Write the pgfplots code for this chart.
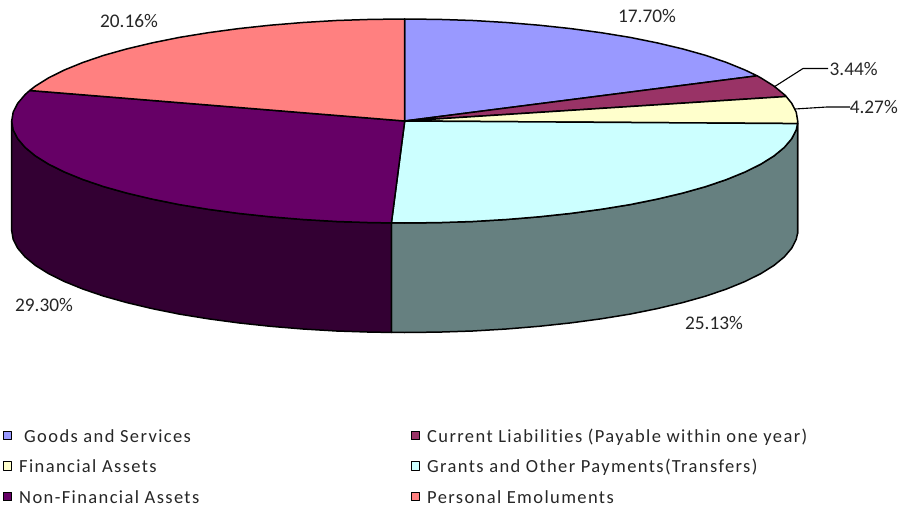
\documentclass[border=0pt]{standalone}
\usepackage{pgfplots}
\pgfplotsset{compat=1.18}
\usepackage{fontspec}
\setmainfont{Carlito}
\newfontfamily\legfont[LetterSpace=7.5,Ligatures=CommonOff]{Carlito}
\definecolor{goods}{HTML}{9999FF}
\definecolor{liab}{HTML}{993366}
\definecolor{fin}{HTML}{FFFFCC}
\definecolor{grants}{HTML}{CCFFFF}
\definecolor{nonfin}{HTML}{660066}
\definecolor{emol}{HTML}{FF8080}
\definecolor{finside}{HTML}{808066}
\definecolor{grantsside}{HTML}{668080}
\definecolor{nonfinside}{HTML}{330033}
\tikzset{
  lab/.style={font=\fontsize{19.3}{21}\selectfont, text=black!85, inner sep=0pt},
  leg/.style={font=\fontsize{18.5}{20}\selectfont\legfont, text=black!85, inner sep=0pt, anchor=base west},
  pie/.style={xshift=0.7pt, line width=1.5pt},
}
\begin{document}
\begin{tikzpicture}
\begin{axis}[
  scale only axis, width=899pt, height=508pt,
  xmin=0, xmax=899, ymin=0, ymax=508, y dir=reverse,
  hide axis, clip=false,
  every axis plot/.append style={line join=round, draw=black},
]
\path[use as bounding box] (axis cs:0,0) rectangle (axis cs:899,508);
% sides
\addplot[pie, fill=finside] coordinates {(797,121)(796.9,123.6)(796.9,233.6)(797,231)} --cycle;
\addplot[pie, fill=grantsside] coordinates {(796.9,123.6)(795.5,129.9)(791,138.7)(783.6,147.4)(773.3,155.9)(760.2,164.1)(744.3,172)(725.9,179.5)(705.1,186.6)(681.9,193.1)(656.6,199.1)(629.4,204.6)(600.5,209.3)(570.1,213.4)(538.4,216.8)(505.7,219.5)(472.2,221.5)(438.3,222.6)(404,223)(390.7,222.9)
 (390.7,332.4)(404,332.5)(438.3,332.1)(472.2,331)(505.7,329)(538.4,326.3)(570.1,322.9)(600.5,318.8)(629.4,314.1)(656.6,308.6)(681.9,302.6)(705.1,296.1)(725.9,289)(744.3,281.5)(760.2,273.6)(773.3,265.4)(783.6,256.9)(791,248.2)(795.5,239.4)(796.9,233.1)} --cycle;
\addplot[pie, fill=nonfinside] coordinates {(390.7,222.9)(369.7,222.6)(335.8,221.5)(302.3,219.5)(269.6,216.8)(237.9,213.4)(207.5,209.3)(178.6,204.6)(151.4,199.1)(126.1,193.1)(102.9,186.6)(82.1,179.5)(63.7,172)(47.8,164.1)(34.7,155.9)(24.4,147.4)(17,138.7)(12.5,129.9)(11,121)
 (11,230.5)(12.5,239.4)(17,248.2)(24.4,256.9)(34.7,265.4)(47.8,273.6)(63.7,281.5)(82.1,289)(102.9,296.1)(126.1,302.6)(151.4,308.6)(178.6,314.1)(207.5,318.8)(237.9,322.9)(269.6,326.3)(302.3,329)(335.8,331)(369.7,332.1)(390.7,332.4)} --cycle;
% top wedges: 17.70, 3.44, 4.27, 25.13, 29.30, 20.16 %
\addplot[pie, fill=goods] coordinates {(404,121)(404,19)(438.3,19.4)(472.2,20.5)(505.7,22.5)(538.4,25.2)(570.1,28.6)(600.5,32.7)(629.4,37.4)(656.6,42.9)(681.9,48.9)(705.1,55.4)(725.9,62.5)(744.3,70)(756.4,75.8)} --cycle;
\addplot[pie, fill=liab] coordinates {(404,121)(756.4,75.8)(760.2,77.9)(773.3,86.1)(783.6,94.6)(785.5,96.5)} --cycle;
\addplot[pie, fill=fin] coordinates {(404,121)(785.5,96.5)(791,103.3)(795.5,112.1)(797,121)(796.9,123.6)} --cycle;
\addplot[pie, fill=grants] coordinates {(404,121)(796.9,123.6)(795.5,129.9)(791,138.7)(783.6,147.4)(773.3,155.9)(760.2,164.1)(744.3,172)(725.9,179.5)(705.1,186.6)(681.9,193.1)(656.6,199.1)(629.4,204.6)(600.5,209.3)(570.1,213.4)(538.4,216.8)(505.7,219.5)(472.2,221.5)(438.3,222.6)(404,223)(390.7,222.9)} --cycle;
\addplot[pie, fill=nonfin] coordinates {(404,121)(390.7,222.9)(369.7,222.6)(335.8,221.5)(302.3,219.5)(269.6,216.8)(237.9,213.4)(207.5,209.3)(178.6,204.6)(151.4,199.1)(126.1,193.1)(102.9,186.6)(82.1,179.5)(63.7,172)(47.8,164.1)(34.7,155.9)(24.4,147.4)(17,138.7)(12.5,129.9)(11,121)(12.5,112.1)(17,103.3)(24.4,94.6)(29,90.5)} --cycle;
\addplot[pie, fill=emol] coordinates {(404,121)(29,90.5)(34.7,86.1)(47.8,77.9)(63.7,70)(82.1,62.5)(102.9,55.4)(126.1,48.9)(151.4,42.9)(178.6,37.4)(207.5,32.7)(237.9,28.6)(269.6,25.2)(302.3,22.5)(335.8,20.5)(369.7,19.4)(404,19)} --cycle;
% leader lines
\addplot[line width=1.1pt] coordinates {(774,87)(803,68.5)(828,68.5)};
\addplot[line width=1.1pt] coordinates {(795,109)(827,107)(850,107)};
% data labels
\node[lab] at (axis cs:647,16) {17.70\%};
\node[lab, anchor=west] at (axis cs:829.5,69) {3.44\%};
\node[lab, anchor=east] at (axis cs:898,107) {4.27\%};
\node[lab] at (axis cs:714,323) {25.13\%};
\node[lab] at (axis cs:44,305) {29.30\%};
\node[lab] at (axis cs:129,21) {20.16\%};
% legend keys
\addplot[only marks, mark=square*, mark size=4.2pt, line width=0.9pt, mark options={fill=goods,draw=black}] coordinates {(7.5,435.5)};
\addplot[only marks, mark=square*, mark size=4.2pt, line width=0.9pt, mark options={fill=fin,draw=black}] coordinates {(7.5,466)};
\addplot[only marks, mark=square*, mark size=4.2pt, line width=0.9pt, mark options={fill=nonfin,draw=black}] coordinates {(7.5,496.5)};
\addplot[only marks, mark=square*, mark size=4.2pt, line width=0.9pt, mark options={fill=liab,draw=black}] coordinates {(415.5,435.5)};
\addplot[only marks, mark=square*, mark size=4.2pt, line width=0.9pt, mark options={fill=grants,draw=black}] coordinates {(415.5,466)};
\addplot[only marks, mark=square*, mark size=4.2pt, line width=0.9pt, mark options={fill=emol,draw=black}] coordinates {(415.5,496.5)};
% legend text
\node[leg] at (axis cs:24,442) {Goods and Services};
\node[leg] at (axis cs:19,472) {Financial Assets};
\node[leg] at (axis cs:19,503) {Non-Financial Assets};
\node[leg] at (axis cs:427,442) {Current Liabilities (Payable within one year)};
\node[leg] at (axis cs:427,472) {Grants and Other Payments(Transfers)};
\node[leg] at (axis cs:427,503) {Personal Emoluments};
\end{axis}
\end{tikzpicture}
\end{document}
